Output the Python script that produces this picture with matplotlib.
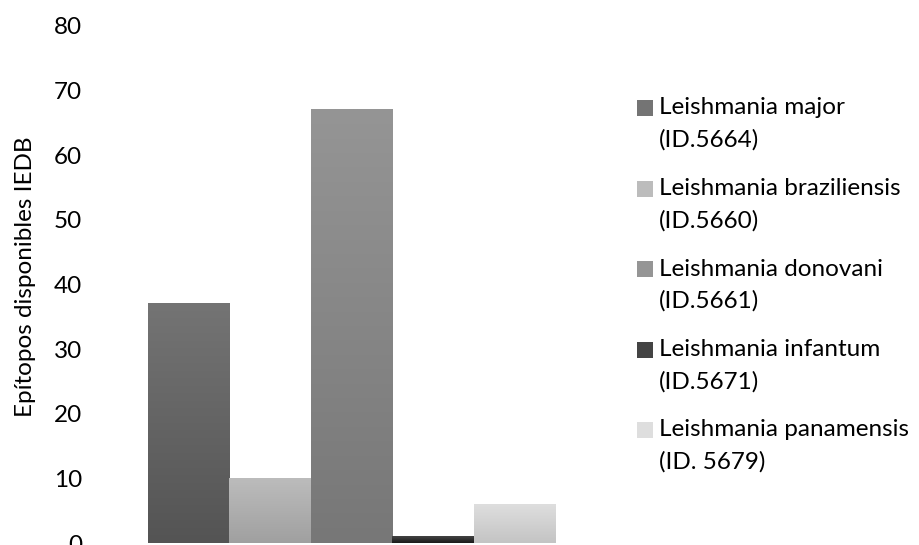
import numpy as np
import matplotlib
matplotlib.use('Agg')
import matplotlib.pyplot as plt
from matplotlib.colors import LinearSegmentedColormap
from matplotlib.patches import Rectangle

plt.rcParams['font.family'] = ['Lato', 'DejaVu Sans']

# datos IEDB
especies = ['Leishmania major', 'Leishmania braziliensis', 'Leishmania donovani',
            'Leishmania infantum', 'Leishmania panamensis']
ids = ['(ID.5664)', '(ID.5660)', '(ID.5661)', '(ID.5671)', '(ID. 5679)']
epitopos = [37, 10, 67, 1, 6]

# degradado vertical de cada barra (arriba, abajo)
color_arriba = ['#747474', '#bcbcbc', '#959595', '#444444', '#dedede']
color_abajo = ['#545454', '#a0a0a0', '#777777', '#1a1a1a', '#c4c4c4']

FS = 17.5
W, H = 919, 545
fig = plt.figure(figsize=(W / 100, H / 100), dpi=100)
ax = fig.add_axes([90 / W, 1.7 / H, (613 - 90) / W, (543.3 - 26) / H])

x = np.arange(len(epitopos))
gap = 0.71
for xi, v, ca, cb in zip(x, epitopos, color_arriba, color_abajo):
    cmap = LinearSegmentedColormap.from_list('g', [cb, ca])
    grad = np.linspace(0, 1, 256).reshape(-1, 1)
    ax.imshow(grad, cmap=cmap, origin='lower', aspect='auto',
              extent=(xi - 0.5, xi + 0.5, 0, v), interpolation='bilinear', zorder=2)

ax.set_xlim(-0.5 - gap, len(epitopos) - 0.5 + gap)
ax.set_ylim(0, 80)
ax.set_yticks(range(0, 81, 10))
ax.set_xticks([])
ax.tick_params(axis='y', length=0, pad=5.8, labelsize=FS, labelcolor='black')
for s in ax.spines.values():
    s.set_visible(False)

fig.text(26 / W, 1 - 277 / H, 'Epítopos disponibles IEDB', rotation=90,
         ha='center', va='center', fontsize=FS)

# leyenda a mano, marcador alineado con la primera línea
y0, paso, interlinea = 108, 80.5, 32
for i, (nombre, ident) in enumerate(zip(especies, ids)):
    yc = y0 + i * paso
    fig.add_artist(Rectangle((637 / W, 1 - (yc + 8) / H), 16 / W, 16 / H,
                             transform=fig.transFigure,
                             facecolor=color_arriba[i], edgecolor='none'))
    fig.text(659 / W, 1 - yc / H, nombre, ha='left', va='center', fontsize=FS)
    fig.text(659 / W, 1 - (yc + interlinea) / H, ident, ha='left', va='center', fontsize=FS)

fig.savefig('out.png', dpi=100)
